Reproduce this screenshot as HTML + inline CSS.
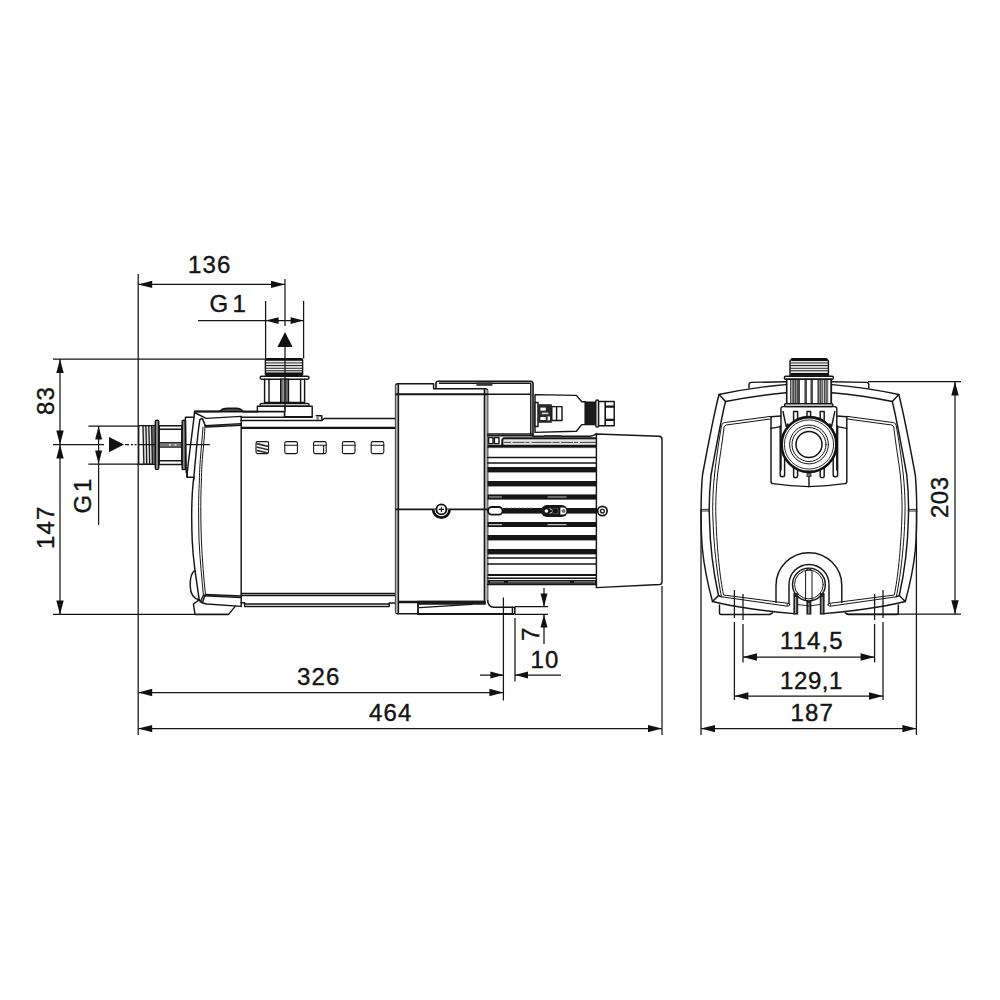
<!DOCTYPE html>
<html>
<head>
<meta charset="utf-8">
<title>Pump dimension drawing</title>
<style>
html,body{margin:0;padding:0;background:#fff;}
body{width:1000px;height:1000px;overflow:hidden;font-family:"Liberation Sans",sans-serif;}
svg{display:block;}
.d{stroke:#151515;stroke-width:1.25;}
.o{stroke:#151515;stroke-width:1.45;stroke-linejoin:round;stroke-linecap:round;}
.t{stroke:#151515;stroke-width:0.8;}
.k{stroke:#151515;stroke-width:2;}
.a{fill:#111;stroke:none;}
.w{fill:#fff;}
text{font-family:"Liberation Sans",sans-serif;font-size:24px;fill:#151515;letter-spacing:1.1px;stroke:#151515;stroke-width:0.4px;}
</style>
</head>
<body>
<svg width="1000" height="1000" viewBox="0 0 1000 1000" fill="none">
<rect width="1000" height="1000" fill="#fff"/>

<!-- ================= DIMENSIONS : SIDE VIEW ================= -->
<g id="dims-side">
  <!-- main left vertical reference -->
  <path class="d" d="M138.2 274V735"/>
  <!-- 136 -->
  <path class="d" d="M138.2 284.4H285"/>
  <path class="a" d="M138.2 284.4l14-3.7v7.4z"/>
  <path class="a" d="M285 284.4l-14-3.7v7.4z"/>
  <path class="d" d="M285 279V326"/>
  <text transform="translate(188 273)">136</text>
  <!-- G 1 (top) -->
  <path class="d" d="M198 320.6H303.6"/>
  <path class="d" d="M265.6 301V358.5M303.6 301V358.5"/>
  <path class="a" d="M265.6 320.6l13-3.4v6.8z"/>
  <path class="a" d="M303.6 320.6l-13-3.4v6.8z"/>
  <text transform="translate(209.5 312)">G</text><text transform="translate(232.4 312)">1</text>
  <!-- flow arrow up -->
  <path class="a" d="M285 332l7.6 15h-15.2z"/>
  <path class="d" d="M285 347V412" stroke-dasharray="14 2 2 2"/>
  <!-- 83 / 147 -->
  <path class="d" d="M53 359H266"/>
  <path class="d" d="M53 444.6H104"/>
  <path class="d" d="M53 614.4H229"/>
  <path class="d" d="M60 359V614.4"/>
  <path class="a" d="M60 359l-3.7 14h7.4z"/>
  <path class="a" d="M60 444.6l-3.7-14h7.4z"/>
  <path class="a" d="M60 444.6l-3.7 14h7.4z"/>
  <path class="a" d="M60 614.4l-3.7-14h7.4z"/>
  <text transform="translate(54 415) rotate(-90)">83</text>
  <text transform="translate(54 549) rotate(-90)">147</text>
  <!-- G 1 (left) -->
  <path class="d" d="M88.4 426H138M88.4 464H138"/>
  <path class="d" d="M98.6 426V525"/>
  <path class="a" d="M98.6 426l-3.5 13.5h7z"/>
  <path class="a" d="M98.6 464l-3.5-13.5h7z"/>
  <text transform="translate(91 513.5) rotate(-90)">G</text><text transform="translate(91 492) rotate(-90)">1</text>
  <!-- flow arrow right -->
  <path class="a" d="M124 444.6l-15-7.6v15.2z"/>
  <path class="d" d="M125 444.6H138" stroke-dasharray="4 2 2 1.5 2 10"/><path class="d" d="M185.4 444.6H209.8"/>
  <!-- 7 -->
  <path class="d" d="M515 606.6H548M515 614.4H548"/>
  <path class="d" d="M544 588V606.6M544 614.4V644"/>
  <path class="a" d="M544 606.6l-3.5-13h7z"/>
  <path class="a" d="M544 614.4l-3.5 13h7z"/>
  <text transform="translate(539 641) rotate(-90)">7</text>
  <!-- 10 -->
  <path class="d" d="M503.4 597.6V700.6M515 618V681.6"/>
  <path class="d" d="M480 675H503.4M515 675H561"/>
  <path class="a" d="M503.4 675l-13-3.5v7z"/>
  <path class="a" d="M515 675l13-3.5v7z"/>
  <text transform="translate(530.5 668)">10</text>
  <!-- 326 -->
  <path class="d" d="M138.2 692.5H503.4"/>
  <path class="a" d="M138.2 692.5l14-3.7v7.4z"/>
  <path class="a" d="M503.4 692.5l-14-3.7v7.4z"/>
  <text transform="translate(297 685)">326</text>
  <!-- 464 -->
  <path class="d" d="M138.2 728.6H662"/>
  <path class="a" d="M138.2 728.6l14-3.7v7.4z"/>
  <path class="a" d="M662 728.6l-14-3.7v7.4z"/>
  <path class="d" d="M662 586V735"/>
  <text transform="translate(369 721)">464</text>
</g>

<!-- ================= DIMENSIONS : FRONT VIEW ================= -->
<g id="dims-front">
  <path class="d" d="M701 510V735M916.4 510V735"/>
  <path class="d" d="M701 728.6H916.4"/>
  <path class="a" d="M701 728.6l14-3.7v7.4z"/>
  <path class="a" d="M916.4 728.6l-14-3.7v7.4z"/>
  <text transform="translate(790.5 721)">187</text>
  <!-- 129,1 -->
  <path class="d" d="M734.4 590V618M734.4 622V700M883 590V618M883 622V700"/>
  <path class="d" d="M734.4 696H883"/>
  <path class="a" d="M734.4 696l14-3.7v7.4z"/>
  <path class="a" d="M883 696l-14-3.7v7.4z"/>
  <text transform="translate(780 689)" style="letter-spacing:0.6px">129,1</text>
  <!-- 114,5 -->
  <path class="d" d="M743 594V620M743 624V662.5M874.6 594V620M874.6 624V662.5"/>
  <path class="d" d="M743 657H874.6"/>
  <path class="a" d="M743 657l14-3.7v7.4z"/>
  <path class="a" d="M874.6 657l-14-3.7v7.4z"/>
  <text transform="translate(780 649.4)">114,5</text>
  <!-- 203 -->
  <path class="d" d="M868 381.6H961M846 614.2H961"/>
  <path class="d" d="M955 381.6V614.2"/>
  <path class="a" d="M955 381.6l-3.7 14h7.4z"/>
  <path class="a" d="M955 614.2l-3.7-14h7.4z"/>
  <text transform="translate(948 518) rotate(-90)" style="letter-spacing:0.5px">203</text>
</g>

<!-- ================= SIDE VIEW ================= -->
<g id="side">
<!--SIDE-START-->
  <!-- ===== inlet connector (left) ===== -->
  <rect x="138.8" y="425.6" width="16.2" height="38.6" fill="#c9c9c9" class="o"/>
  <rect x="139.6" y="426.6" width="3" height="36.6" fill="#fff"/>
  <rect x="151.6" y="426.2" width="3.4" height="37.4" fill="#6a6a6a"/>
  <path d="M143 426L143.9 464M145.9 426L146.8 464M148.8 426L149.7 464M151.6 426L152.4 464" stroke="#1c1c1c" stroke-width="1.3" fill="none"/>
  <path d="M144.5 427L145.3 463M147.4 427L148.2 463M150.3 427L151 463" stroke="#f0f0f0" stroke-width="0.7" fill="none"/>
  <rect x="155.3" y="420.2" width="3.4" height="49.4" rx="1.6" fill="#8a8a8a" class="o"/>
  <path class="o" d="M159 425.8H182M159 429.3H182M159 460.7H182M159 464.4H182"/>
  <rect x="159" y="442.6" width="23" height="4.6" fill="#777" stroke="#151515" stroke-width="1"/>
  <path class="o" d="M159.2 425.8V464.4M181.8 425.8V464.4"/>
  <path class="d" d="M138.8 444.6H155"/>
  <rect x="169" y="444.2" width="2" height="1.4" fill="#eee"/><rect x="174.4" y="444.2" width="2" height="1.4" fill="#eee"/>
  <rect x="182.2" y="420.2" width="3.2" height="49.4" rx="1.2" fill="#8a8a8a" class="o"/>
  <path class="o" d="M194.2 417.2H185.4L186.2 472.5H187V477.2H193.8"/>

  <!-- ===== pump front cover ===== -->
  <!-- outer silhouette left -->
  <path class="o" d="M194.6 411.2C193.8 421 190.6 444 188.2 464C187.6 470 187 474 187 477"/>
  <path class="o" d="M193.8 477.2C192.4 488 190.8 505 192.2 540C193 556 194 563 195 570.4L199.2 599.6"/>
  <!-- bump -->
  <path class="o" d="M195 570.4C190.6 573 190 580 190.2 586C190.4 594 193 598.5 199.2 599.8"/>
  <!-- foot -->
  <path class="o" d="M199.2 599.8L193.4 604L195 614.4"/>
  <path class="o" d="M195 614.4H228.6L235.2 606.4"/>
  <!-- middle curve -->
  <path class="o" d="M195.4 413L206.2 418.4L241.2 416.4"/>
  <path class="o" d="M199.8 420C198.6 428 197 442 195.8 456C194.8 466 194 474 193.8 480"/>
  <path class="o" d="M199.8 420C200.6 418.6 201.4 418.4 202.4 418.6L205.2 425.4"/>
  <!-- inner double curve -->
  <path class="o" d="M203 427.2C202.4 436 201.2 448 200.6 456C199.8 466 199.4 474 199.4 480C198.8 492 198.6 500 198.6 510C198.6 520 198.8 530 199 540C200 560 201.8 578 203.4 595.2" style="stroke-width:1"/>
  <path class="o" d="M205 425.6C204.8 432 203.4 448 202.6 456C201.8 466 201.4 474 201.4 480C200.9 492 200.8 500 200.8 510C200.8 520 201 530 201.4 540C202.2 560 203.8 578 205.4 594.4" style="stroke-width:1"/>
  <!-- panel top -->
  <path class="o" d="M205 425.6L241.2 423.6M205.6 427L241.2 425.2"/>
  <!-- panel bottom -->
  <path class="o" d="M205.4 594.4L241.2 596M204.6 595.8L241.2 597.6"/>
  <path class="o" d="M203.4 595.2L200.2 602M205.4 594.6L202.2 603"/>
  <path class="o" d="M199.2 599.8C201 602.6 204 603.6 207 604L241.2 606.4"/>
  <!-- top thick line of cover with knob -->
  <path d="M194.6 411.4H219.8C222 408.6 224 408.3 228 408.3H236C240 408.4 242 409.6 243.2 411.6H258" stroke="#151515" stroke-width="1.8" fill="#555" stroke-linejoin="round"/>
  <path d="M194.6 411.6H284.6V416.8" class="k" style="stroke-width:1.6"/>

  <!-- ===== body cylinder ===== -->
  <path class="o" d="M241.2 416.4V606.4"/>
  <path class="o" d="M241.2 417.2H312.2M241.2 420.4H321.8"/>
  <path class="k" d="M241.2 427.8H395.6" style="stroke-width:2.2"/>
  <path class="o" d="M316.2 415.8H321.8V420.4L324.6 418.4H395.6"/>
  <rect x="316.4" y="416.4" width="2.6" height="3.6" fill="#888"/>
  <!-- bottom lines -->
  <path class="o" d="M241.2 593.4H395.4M241.2 595.4H395.4"/>
  <path class="o" d="M241.2 602.8H244.6V606.4H389.2V603.2M244.6 604H389.2M389.2 603H395.4"/>
  <!-- squares -->
  <g class="o" style="stroke-width:1.1">
    <rect x="256" y="441.6" width="12.6" height="12" rx="1.6"/>
    <rect x="284.8" y="441.6" width="12.6" height="12" rx="1.6"/>
    <rect x="313.6" y="441.6" width="12.6" height="12" rx="1.6"/>
    <rect x="342.4" y="441.6" width="12.6" height="12" rx="1.6"/>
    <rect x="371.2" y="441.6" width="12.6" height="12" rx="1.6"/>
    <path d="M284.8 445.2H297.4M313.6 445.2H326.2M342.4 445.2H355M371.2 445.2H383.8M323.6 445.2V453.6"/>
  </g>
  <path d="M256.6 443.6L268 446.4M256.6 447L268 449.8M256.6 450.4L268 453" stroke="#333" stroke-width="1.6" fill="none"/>

  <!-- ===== top outlet connector ===== -->
  <rect x="265.4" y="358.6" width="37.2" height="17" rx="1.5" fill="#e4e4e4" class="o"/>
  <path d="M265.6 359.6H302.4" stroke="#111" stroke-width="2.4"/>
  <path d="M265.6 374H302.4" stroke="#111" stroke-width="2.8"/>
  <path d="M265.6 363H302.4M265.6 365.6H302.4M265.6 368.2H302.4M265.6 370.8H302.4" stroke="#222" stroke-width="1.1"/>
  <path d="M266.2 364.3H302M266.2 366.9H302M266.2 369.5H302" stroke="#eee" stroke-width="0.9"/>
  <rect x="260.2" y="376.2" width="48.8" height="3" rx="1.4" fill="#fff" class="o"/>
  <path class="o" d="M264.6 379.2V403M269 379.2V403M300.6 379.2V403M304.6 379.2V403"/>
  <rect x="280.6" y="379.2" width="8" height="23.8" fill="#666" stroke="#151515" stroke-width="1.2"/>
  <path d="M283.2 379.4V403" stroke="#bbb" stroke-width="0.8"/>
  <path d="M264.6 402.6H304.6" stroke="#111" stroke-width="1.6"/>
  <rect x="260.2" y="403.4" width="48.8" height="2.8" rx="1.2" fill="#fff" class="o"/>
  <path class="o" d="M257.4 411.4V406.2H312.2V416.8H284.6"/>
  <path class="d" d="M285 358V410"/>

  <!-- ===== control box ===== -->
  <path class="o" d="M395.6 386V611.6Q395.6 613.8 397.8 613.8H418"/>
  <path class="o" d="M395.6 386Q395.6 383.8 397.8 383.8H433.6V388.8H485.2Q487.6 388.8 487.6 391V600"/>
  <rect x="395.6" y="385" width="2.8" height="228" fill="#b0b0b0"/>
  <path class="o" d="M398.4 384V613.6"/>
  <rect x="484.4" y="390" width="3.2" height="210" fill="#b0b0b0"/>
  <path class="o" d="M484.4 389V601"/>
  <path class="k" d="M395.6 394.2H487.6" style="stroke-width:2"/>
  <path class="k" d="M395.6 509.4H487.6" style="stroke-width:1.7"/>
  <path d="M433.2 509.4A8.2 8.2 0 0 0 449.6 509.4" fill="#fff" stroke="#111" stroke-width="2.7"/>
  <circle cx="441.4" cy="509.4" r="5" fill="#fff" stroke="#111" stroke-width="1.9"/>
  <path d="M438.8 509.4H444M441.4 506.8V512" stroke="#151515" stroke-width="1.1"/>
  <!-- raised lid -->
  <path class="k" d="M436 388.8V383.4Q436 381.2 438.4 381.2H530.4Q533 381.2 533 383.8V435.6" style="stroke-width:1.6"/>
  <path class="o" d="M439.4 383.2H530.6M530.8 383.4V434M487.6 394.2H530.8"/>
  <rect x="476.4" y="382.4" width="16" height="3.4" fill="#333"/>
  <path class="o" d="M487.6 434H533M487.6 435.8H533"/>
  <!-- lower -->
  <path class="k" d="M398.4 602H485.6" style="stroke-width:2.4"/>
  <path d="M417.4 600.8H485.8V604.7H417.4Z" fill="#1a1a1a"/>
  <path class="o" d="M419.6 607.6L472 604.4" style="stroke-width:1.1"/>
  <path class="k" d="M418 601.6V614H514.6" style="stroke-width:1.8"/>
  <path class="k" d="M487.6 600Q488 607.2 494 607.2H514.8V614" style="stroke-width:1.6"/>
  <path class="o" d="M512.4 607.4V614"/>
  <!-- ===== cable connector ===== -->
  <path class="o" d="M535 394.6L576.4 395.4L581.8 401.8H585.4V424.6H581.8L576.4 431.2L535 432.4Z" fill="#fff"/>
  <rect x="535" y="402.4" width="3" height="24" fill="#fff" class="o"/>
  <rect x="538" y="404.2" width="13.8" height="18.6" fill="#2a2a2a"/>
  <rect x="540.4" y="407.6" width="5.4" height="3" fill="#fff"/><rect x="540.4" y="417" width="5.4" height="3" fill="#fff"/>
  <rect x="541.8" y="412.6" width="6.6" height="1.6" fill="#ddd"/><rect x="547.6" y="416.4" width="2.4" height="4" fill="#eee"/>
  <rect x="551.8" y="406.6" width="10.2" height="13.8" fill="#fff" class="o"/>
  <path class="o" d="M556.6 406.6V420.4"/>
  <rect x="585.4" y="402.2" width="10.4" height="22.4" fill="#1c1c1c" class="o"/>
  <rect x="595.8" y="400" width="2.8" height="27" rx="1.2" fill="#fff" class="o"/>
  <rect x="598.6" y="401.4" width="15.6" height="24.4" fill="#fff" class="o"/>
  <path d="M605.2 401.4V425.8" stroke="#151515" stroke-width="1.6"/>
  <path d="M605.2 406.6H614.2M605.2 419.8H614.2" stroke="#151515" stroke-width="2.2"/>

  <!-- ===== motor ===== -->
  <rect x="488.6" y="437.6" width="4.4" height="6" fill="#fff" class="o"/>
  <rect x="494.4" y="437.6" width="4.6" height="6" fill="#fff" class="o"/>
  <path class="o" d="M533 436.2H590Q594 436 596.6 433.4"/>
  <rect x="544" y="435" width="17" height="2" fill="#333"/>
  <!-- top plate -->
  <path d="M502.6 445.6V440.6Q502.6 438.5 504.8 438.5H596.4" class="k" style="stroke-width:2.6"/>
  <rect x="503.4" y="439.4" width="93" height="5.2" fill="#e4e4e4"/>
  <path d="M504 442.4H596" stroke="#444" stroke-width="1" stroke-dasharray="7 1.5 12 1 4 2 20 1"/>
  <path d="M487.6 445.8H596.4" class="k" style="stroke-width:2.2"/>
  <path class="o" d="M487.6 447.6H596.4" style="stroke-width:0.8"/>
  <!-- fins -->
  <path class="o" d="M487.6 457.4H596.4M487.6 463H596.4M487.6 558H596.4M487.6 564H596.4M487.6 578.2H596.4"/>
  <path class="k" d="M487.6 575H596.4" style="stroke-width:1.8"/>
  <g fill="#161616">
    <rect x="487.6" y="467" width="108.8" height="5.4"/>
    <rect x="487.6" y="481" width="108.8" height="5.4"/>
    <rect x="487.6" y="494.4" width="108.8" height="5.2"/>
    <rect x="503" y="508" width="93.4" height="5.6"/>
    <rect x="487.6" y="522" width="108.8" height="5"/>
    <rect x="487.6" y="535" width="108.8" height="5.4"/>
    <rect x="487.6" y="549" width="108.8" height="5.4"/>
    <rect x="487.6" y="580" width="108.8" height="3.8"/>
  </g>
  <path d="M489 497H502M547.6 497H566.4M489 524.6H502M547.6 524.6H566.4" stroke="#bdbdbd" stroke-width="1.1"/>
  <path d="M490 581.8H504M508 581.8H570M574 581.8H595" stroke="#888" stroke-width="1.2"/>
  <path d="M506 507.8H532" stroke="#aaa" stroke-width="0.8" stroke-dasharray="2 2"/>
  <!-- left pill -->
  <rect x="488" y="507" width="14.6" height="7.6" rx="3.8" fill="#fff" stroke="#151515" stroke-width="1.9"/>
  <!-- centre pill -->
  <rect x="541" y="505" width="26.6" height="12" rx="6" fill="#161616"/>
  <circle cx="546.4" cy="511" r="1.8" fill="#fff"/>
  <path d="M549.6 508.4L553.6 511L549.6 513.6M557.6 508.4L553.6 511L557.6 513.6" stroke="#ddd" stroke-width="1" fill="none"/>
  <circle cx="555.4" cy="511" r="3" fill="#111" stroke="#666" stroke-width="0.6"/>
  <path d="M560.4 507.6H563A3.4 3.4 0 0 1 563 514.4H560.4Z" fill="#fff"/>
  <circle cx="563.6" cy="511" r="1.5" fill="#888" stroke="#222" stroke-width="0.6"/>
  <!-- fan cover -->
  <path class="o" d="M596.4 434L659 436.3Q662 436.5 662 439.5V582Q662 584.3 659.6 584.5L596.4 587.6Z" fill="#fff"/>
  <circle cx="602.4" cy="511" r="4.7" fill="#fff" stroke="#151515" stroke-width="1.7"/>
  <circle cx="602.4" cy="511" r="1.9" fill="#fff" stroke="#151515" stroke-width="1.3"/>
  <path class="o" d="M487.6 584.4H596.4"/>
<!--SIDE-END-->
</g>

<!-- ================= FRONT VIEW ================= -->
<g id="front">
<!--FRONT-START-->
  <!-- ===== shell (left half, mirrored) ===== -->
  <g>
    <path class="o" d="M785.8 384.6Q752 387.4 719 394.5C715 410 709 440 702.5 475C700.6 495 700.6 530 702.5 550C704 565 708 585 712.5 601.5C735 607 770 612 794 613.6"/>
    <path class="o" d="M785.8 392.8Q755 395.5 725.5 401.5C722 415 716.5 445 711 475C709 495 709 510 709.5 520C710 545 714 575 718.5 595.5"/>
    <path class="o" d="M719 394.5L725.5 401.5M712.5 601.5L718.5 595.5L721.5 596.8"/>
    <path class="o" d="M770.4 416.4L724.4 422.6Q722 423 721.6 425.4C719.5 437 716 460 714.5 475C712.5 495 712.5 510 713 520C714 550 718 580 721.5 596.8L787.5 606.2" style="stroke-width:1"/>
    <path class="o" d="M770.4 419L726.2 425Q724.4 425.4 724 427.4C722 445 718.5 465 717.5 475C715.5 495 715.5 510 716 520C717 550 720 578 723.5 595L788.6 603.4" style="stroke-width:1"/>
    <circle cx="788.4" cy="604.8" r="1.3" class="o" style="stroke-width:0.9"/>
    <path class="o" d="M749 388V384.6Q749 382.5 751.4 382.4L785.8 381.7"/>
    <path class="o" d="M719.5 605V613Q719.5 614.5 721 614.5H769.6L772.6 612.8"/>
    <path class="o" d="M701 509.4H709.5M701 511H709.5" style="stroke-width:0.9"/>
    <!-- inner box side -->
    <path class="o" d="M771 416.6V481.4Q771 483.4 773 483.6Q790 486 809 486.6"/>
    <path class="o" d="M771 416.8L780.8 416M771 428.4L780.8 426.6"/>
    <!-- connector body side -->
    <path class="o" d="M809 406.6H782.4L781 408V470"/>
    <path class="o" d="M780.2 426V475Q780.2 476.8 782.4 476.8Q784.6 476.8 784.6 475V459"/>
    <path class="o" d="M783 411.6L786.2 426.4L788 424"/>
    <path class="o" d="M793.6 426V411.4H797.6V422"/>
    <path class="o" d="M793.6 467V476Q793.6 477.6 795.6 477.6Q797.6 477.6 797.6 476V470"/>
  </g>
  <g transform="translate(1617.8 0) scale(-1 1)">
    <path class="o" d="M785.8 384.6Q752 387.4 719 394.5C715 410 709 440 702.5 475C700.6 495 700.6 530 702.5 550C704 565 708 585 712.5 601.5C735 607 770 612 794 613.6"/>
    <path class="o" d="M785.8 392.8Q755 395.5 725.5 401.5C722 415 716.5 445 711 475C709 495 709 510 709.5 520C710 545 714 575 718.5 595.5"/>
    <path class="o" d="M719 394.5L725.5 401.5M712.5 601.5L718.5 595.5L721.5 596.8"/>
    <path class="o" d="M770.4 416.4L724.4 422.6Q722 423 721.6 425.4C719.5 437 716 460 714.5 475C712.5 495 712.5 510 713 520C714 550 718 580 721.5 596.8L787.5 606.2" style="stroke-width:1"/>
    <path class="o" d="M770.4 419L726.2 425Q724.4 425.4 724 427.4C722 445 718.5 465 717.5 475C715.5 495 715.5 510 716 520C717 550 720 578 723.5 595L788.6 603.4" style="stroke-width:1"/>
    <circle cx="788.4" cy="604.8" r="1.3" class="o" style="stroke-width:0.9"/>
    <path class="o" d="M749 388V384.6Q749 382.5 751.4 382.4L785.8 381.7"/>
    <path class="o" d="M719.5 605V613Q719.5 614.5 721 614.5H769.6L772.6 612.8"/>
    <path class="o" d="M701 509.4H709.5M701 511H709.5" style="stroke-width:0.9"/>
    <!-- inner box side -->
    <path class="o" d="M771 416.6V481.4Q771 483.4 773 483.6Q790 486 809 486.6"/>
    <path class="o" d="M771 416.8L780.8 416M771 428.4L780.8 426.6"/>
    <!-- connector body side -->
    <path class="o" d="M809 406.6H782.4L781 408V470"/>
    <path class="o" d="M780.2 426V475Q780.2 476.8 782.4 476.8Q784.6 476.8 784.6 475V459"/>
    <path class="o" d="M783 411.6L786.2 426.4L788 424"/>
    <path class="o" d="M793.6 426V411.4H797.6V422"/>
    <path class="o" d="M793.6 467V476Q793.6 477.6 795.6 477.6Q797.6 477.6 797.6 476V470"/>
  </g>

  <!-- ===== top connector ===== -->
  <path d="M792 358.6H826.4L828.4 361V376H790V361Z" fill="#e4e4e4" class="o"/>
  <path d="M791.4 359.8H827" stroke="#111" stroke-width="2.4"/>
  <path d="M790.6 374.4H828" stroke="#111" stroke-width="2.6"/>
  <path d="M790.4 363H828M790.4 365.6H828M790.4 368.2H828M790.4 370.8H828" stroke="#222" stroke-width="1.1"/>
  <path d="M791 364.3H827.6M791 366.9H827.6M791 369.5H827.6" stroke="#eee" stroke-width="0.9"/>
  <rect x="784.4" y="376.3" width="49" height="2.9" rx="1.2" fill="#fff" class="o"/>
  <rect x="786.6" y="379.2" width="44.8" height="24.4" fill="#4a4a4a" class="o"/>
  <g fill="#fff">
    <rect x="787.6" y="380" width="2.4" height="23"/>
    <rect x="791.2" y="380" width="1.2" height="23" fill="#bbb"/>
    <rect x="794" y="380" width="0.9" height="23" fill="#999"/><rect x="796" y="380" width="0.9" height="23" fill="#999"/>
    <rect x="800" y="380" width="4.4" height="23"/>
    <rect x="807" y="380" width="3.4" height="23"/>
    <rect x="813" y="380" width="4.4" height="23"/>
    <rect x="819" y="380" width="0.9" height="23" fill="#999"/><rect x="821" y="380" width="0.9" height="23" fill="#999"/>
    <rect x="822.8" y="380" width="1.2" height="23" fill="#ccc"/>
    <rect x="825" y="380" width="0.9" height="23" fill="#999"/><rect x="826.6" y="380" width="0.9" height="23" fill="#999"/>
    <rect x="828.2" y="380" width="2" height="23"/>
  </g>
  <rect x="784.6" y="403.8" width="48.2" height="2.6" rx="1" fill="#fff" class="o"/>
  <!-- centre ribs -->
  <path class="o" d="M807 418V411.4H810.6V418"/>
  <rect x="807" y="473" width="4" height="3.6" fill="#777" stroke="#222" stroke-width="0.8"/>
  <path class="o" d="M809 477V486.6"/>
  <!-- circle -->
  <circle cx="809" cy="444.5" r="27.4" fill="#fff" stroke="#111" stroke-width="2.6"/>
  <circle cx="809" cy="444.5" r="24.6" class="o" style="stroke-width:0.9"/>
  <circle cx="809" cy="444.5" r="19.4" class="o" style="stroke-width:1"/>
  <circle cx="809" cy="444.5" r="17" class="o" style="stroke-width:1"/>
  <circle cx="809" cy="444.5" r="13" class="o" style="stroke-width:1.5"/>

  <!-- ===== bottom arch / drain ===== -->
  <path class="o" d="M776 602.6V585.6A32.9 32.9 0 0 1 841.8 585.6V602.6"/>
  <path class="o" d="M789 603.4V584.5A20 20 0 0 1 829 584.5V603.4"/>
  <circle cx="808.9" cy="584.5" r="16.4" class="o" fill="#fff"/>
  <circle cx="808.9" cy="584.5" r="14.4" class="o" style="stroke-width:1"/>
  <path class="o" d="M805.6 600.6V571.6Q805.6 569 808.8 569Q812 569 812 571.6V600.6" style="stroke-width:1"/>
  <g>
    <rect x="793.4" y="593" width="4.8" height="21.6" fill="#222"/>
    <rect x="795.2" y="597" width="1" height="16" fill="#ccc"/>
    <rect x="806.4" y="601" width="5" height="13.6" fill="#222"/>
    <rect x="808.4" y="603" width="1" height="10.5" fill="#ccc"/>
    <rect x="819.8" y="593" width="4.8" height="21.6" fill="#222"/>
    <rect x="821.6" y="597" width="1" height="16" fill="#ccc"/>
    <path class="o" d="M798.2 604.6Q809 607.4 819.8 604.6" style="stroke-width:0.9"/>
  </g>
<!--FRONT-END-->
</g>
</svg>
</body>
</html>
